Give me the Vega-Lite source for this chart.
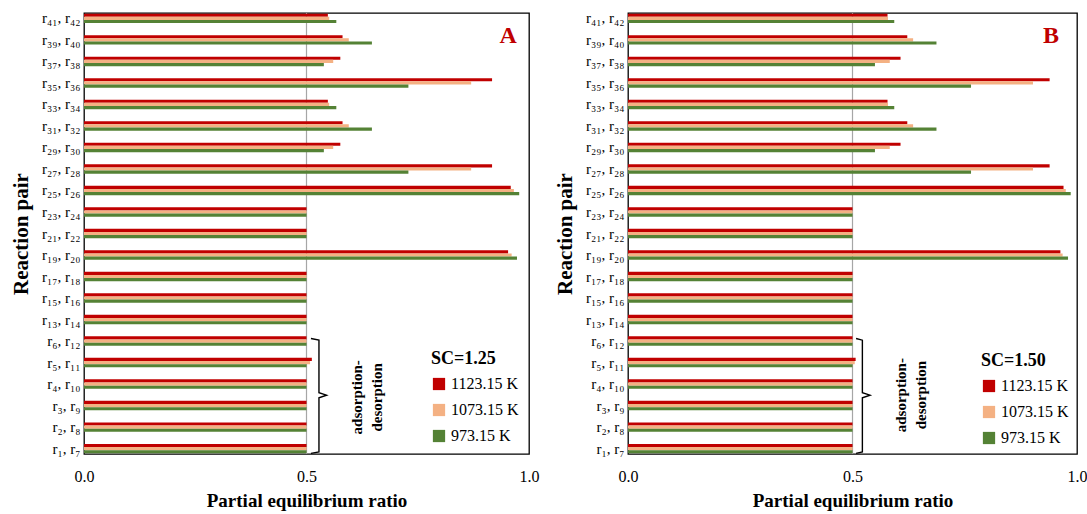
{
  "$schema": "https://vega.github.io/schema/vega-lite/v6.json",
  "padding": {"left": 9, "top": 10, "right": 5, "bottom": 5},
  "config": {
    "font": "Liberation Serif",
    "view": {"stroke": "#000000", "strokeWidth": 1.3},
    "axis": {"labelFont": "Liberation Serif", "titleFont": "Liberation Serif", "labelColor": "#000000", "titleColor": "#000000"},
    "legend": {"labelFont": "Liberation Serif", "titleFont": "Liberation Serif", "labelColor": "#000000", "titleColor": "#000000"},
    "text": {"font": "Liberation Serif"}
  },
  "datasets": {
    "A": [
      {"pair": "r₄₁, r₄₂", "T": "1123.15 K", "v": 0.548}, {"pair": "r₄₁, r₄₂", "T": "1073.15 K", "v": 0.551}, {"pair": "r₄₁, r₄₂", "T": "973.15 K", "v": 0.567},
      {"pair": "r₃₉, r₄₀", "T": "1123.15 K", "v": 0.581}, {"pair": "r₃₉, r₄₀", "T": "1073.15 K", "v": 0.595}, {"pair": "r₃₉, r₄₀", "T": "973.15 K", "v": 0.647},
      {"pair": "r₃₇, r₃₈", "T": "1123.15 K", "v": 0.576}, {"pair": "r₃₇, r₃₈", "T": "1073.15 K", "v": 0.560}, {"pair": "r₃₇, r₃₈", "T": "973.15 K", "v": 0.539},
      {"pair": "r₃₅, r₃₆", "T": "1123.15 K", "v": 0.917}, {"pair": "r₃₅, r₃₆", "T": "1073.15 K", "v": 0.870}, {"pair": "r₃₅, r₃₆", "T": "973.15 K", "v": 0.729},
      {"pair": "r₃₃, r₃₄", "T": "1123.15 K", "v": 0.548}, {"pair": "r₃₃, r₃₄", "T": "1073.15 K", "v": 0.551}, {"pair": "r₃₃, r₃₄", "T": "973.15 K", "v": 0.567},
      {"pair": "r₃₁, r₃₂", "T": "1123.15 K", "v": 0.581}, {"pair": "r₃₁, r₃₂", "T": "1073.15 K", "v": 0.595}, {"pair": "r₃₁, r₃₂", "T": "973.15 K", "v": 0.647},
      {"pair": "r₂₉, r₃₀", "T": "1123.15 K", "v": 0.576}, {"pair": "r₂₉, r₃₀", "T": "1073.15 K", "v": 0.560}, {"pair": "r₂₉, r₃₀", "T": "973.15 K", "v": 0.539},
      {"pair": "r₂₇, r₂₈", "T": "1123.15 K", "v": 0.917}, {"pair": "r₂₇, r₂₈", "T": "1073.15 K", "v": 0.870}, {"pair": "r₂₇, r₂₈", "T": "973.15 K", "v": 0.729},
      {"pair": "r₂₅, r₂₆", "T": "1123.15 K", "v": 0.959}, {"pair": "r₂₅, r₂₆", "T": "1073.15 K", "v": 0.966}, {"pair": "r₂₅, r₂₆", "T": "973.15 K", "v": 0.978},
      {"pair": "r₂₃, r₂₄", "T": "1123.15 K", "v": 0.5}, {"pair": "r₂₃, r₂₄", "T": "1073.15 K", "v": 0.5}, {"pair": "r₂₃, r₂₄", "T": "973.15 K", "v": 0.5},
      {"pair": "r₂₁, r₂₂", "T": "1123.15 K", "v": 0.5}, {"pair": "r₂₁, r₂₂", "T": "1073.15 K", "v": 0.5}, {"pair": "r₂₁, r₂₂", "T": "973.15 K", "v": 0.5},
      {"pair": "r₁₉, r₂₀", "T": "1123.15 K", "v": 0.953}, {"pair": "r₁₉, r₂₀", "T": "1073.15 K", "v": 0.961}, {"pair": "r₁₉, r₂₀", "T": "973.15 K", "v": 0.973},
      {"pair": "r₁₇, r₁₈", "T": "1123.15 K", "v": 0.5}, {"pair": "r₁₇, r₁₈", "T": "1073.15 K", "v": 0.5}, {"pair": "r₁₇, r₁₈", "T": "973.15 K", "v": 0.5},
      {"pair": "r₁₅, r₁₆", "T": "1123.15 K", "v": 0.5}, {"pair": "r₁₅, r₁₆", "T": "1073.15 K", "v": 0.5}, {"pair": "r₁₅, r₁₆", "T": "973.15 K", "v": 0.5},
      {"pair": "r₁₃, r₁₄", "T": "1123.15 K", "v": 0.5}, {"pair": "r₁₃, r₁₄", "T": "1073.15 K", "v": 0.5}, {"pair": "r₁₃, r₁₄", "T": "973.15 K", "v": 0.5},
      {"pair": "r₆, r₁₂", "T": "1123.15 K", "v": 0.5}, {"pair": "r₆, r₁₂", "T": "1073.15 K", "v": 0.5}, {"pair": "r₆, r₁₂", "T": "973.15 K", "v": 0.5},
      {"pair": "r₅, r₁₁", "T": "1123.15 K", "v": 0.512}, {"pair": "r₅, r₁₁", "T": "1073.15 K", "v": 0.508}, {"pair": "r₅, r₁₁", "T": "973.15 K", "v": 0.5},
      {"pair": "r₄, r₁₀", "T": "1123.15 K", "v": 0.5}, {"pair": "r₄, r₁₀", "T": "1073.15 K", "v": 0.5}, {"pair": "r₄, r₁₀", "T": "973.15 K", "v": 0.5},
      {"pair": "r₃, r₉", "T": "1123.15 K", "v": 0.5}, {"pair": "r₃, r₉", "T": "1073.15 K", "v": 0.5}, {"pair": "r₃, r₉", "T": "973.15 K", "v": 0.5},
      {"pair": "r₂, r₈", "T": "1123.15 K", "v": 0.5}, {"pair": "r₂, r₈", "T": "1073.15 K", "v": 0.5}, {"pair": "r₂, r₈", "T": "973.15 K", "v": 0.5},
      {"pair": "r₁, r₇", "T": "1123.15 K", "v": 0.5}, {"pair": "r₁, r₇", "T": "1073.15 K", "v": 0.5}, {"pair": "r₁, r₇", "T": "973.15 K", "v": 0.5}
    ],
    "B": [
      {"pair": "r₄₁, r₄₂", "T": "1123.15 K", "v": 0.578}, {"pair": "r₄₁, r₄₂", "T": "1073.15 K", "v": 0.579}, {"pair": "r₄₁, r₄₂", "T": "973.15 K", "v": 0.593},
      {"pair": "r₃₉, r₄₀", "T": "1123.15 K", "v": 0.622}, {"pair": "r₃₉, r₄₀", "T": "1073.15 K", "v": 0.635}, {"pair": "r₃₉, r₄₀", "T": "973.15 K", "v": 0.687},
      {"pair": "r₃₇, r₃₈", "T": "1123.15 K", "v": 0.607}, {"pair": "r₃₇, r₃₈", "T": "1073.15 K", "v": 0.583}, {"pair": "r₃₇, r₃₈", "T": "973.15 K", "v": 0.550},
      {"pair": "r₃₅, r₃₆", "T": "1123.15 K", "v": 0.939}, {"pair": "r₃₅, r₃₆", "T": "1073.15 K", "v": 0.902}, {"pair": "r₃₅, r₃₆", "T": "973.15 K", "v": 0.764},
      {"pair": "r₃₃, r₃₄", "T": "1123.15 K", "v": 0.578}, {"pair": "r₃₃, r₃₄", "T": "1073.15 K", "v": 0.579}, {"pair": "r₃₃, r₃₄", "T": "973.15 K", "v": 0.593},
      {"pair": "r₃₁, r₃₂", "T": "1123.15 K", "v": 0.622}, {"pair": "r₃₁, r₃₂", "T": "1073.15 K", "v": 0.635}, {"pair": "r₃₁, r₃₂", "T": "973.15 K", "v": 0.687},
      {"pair": "r₂₉, r₃₀", "T": "1123.15 K", "v": 0.607}, {"pair": "r₂₉, r₃₀", "T": "1073.15 K", "v": 0.583}, {"pair": "r₂₉, r₃₀", "T": "973.15 K", "v": 0.550},
      {"pair": "r₂₇, r₂₈", "T": "1123.15 K", "v": 0.939}, {"pair": "r₂₇, r₂₈", "T": "1073.15 K", "v": 0.902}, {"pair": "r₂₇, r₂₈", "T": "973.15 K", "v": 0.764},
      {"pair": "r₂₅, r₂₆", "T": "1123.15 K", "v": 0.970}, {"pair": "r₂₅, r₂₆", "T": "1073.15 K", "v": 0.975}, {"pair": "r₂₅, r₂₆", "T": "973.15 K", "v": 0.986},
      {"pair": "r₂₃, r₂₄", "T": "1123.15 K", "v": 0.5}, {"pair": "r₂₃, r₂₄", "T": "1073.15 K", "v": 0.5}, {"pair": "r₂₃, r₂₄", "T": "973.15 K", "v": 0.5},
      {"pair": "r₂₁, r₂₂", "T": "1123.15 K", "v": 0.5}, {"pair": "r₂₁, r₂₂", "T": "1073.15 K", "v": 0.5}, {"pair": "r₂₁, r₂₂", "T": "973.15 K", "v": 0.5},
      {"pair": "r₁₉, r₂₀", "T": "1123.15 K", "v": 0.963}, {"pair": "r₁₉, r₂₀", "T": "1073.15 K", "v": 0.968}, {"pair": "r₁₉, r₂₀", "T": "973.15 K", "v": 0.980},
      {"pair": "r₁₇, r₁₈", "T": "1123.15 K", "v": 0.5}, {"pair": "r₁₇, r₁₈", "T": "1073.15 K", "v": 0.5}, {"pair": "r₁₇, r₁₈", "T": "973.15 K", "v": 0.5},
      {"pair": "r₁₅, r₁₆", "T": "1123.15 K", "v": 0.5}, {"pair": "r₁₅, r₁₆", "T": "1073.15 K", "v": 0.5}, {"pair": "r₁₅, r₁₆", "T": "973.15 K", "v": 0.5},
      {"pair": "r₁₃, r₁₄", "T": "1123.15 K", "v": 0.5}, {"pair": "r₁₃, r₁₄", "T": "1073.15 K", "v": 0.5}, {"pair": "r₁₃, r₁₄", "T": "973.15 K", "v": 0.5},
      {"pair": "r₆, r₁₂", "T": "1123.15 K", "v": 0.5}, {"pair": "r₆, r₁₂", "T": "1073.15 K", "v": 0.5}, {"pair": "r₆, r₁₂", "T": "973.15 K", "v": 0.5},
      {"pair": "r₅, r₁₁", "T": "1123.15 K", "v": 0.507}, {"pair": "r₅, r₁₁", "T": "1073.15 K", "v": 0.505}, {"pair": "r₅, r₁₁", "T": "973.15 K", "v": 0.5},
      {"pair": "r₄, r₁₀", "T": "1123.15 K", "v": 0.5}, {"pair": "r₄, r₁₀", "T": "1073.15 K", "v": 0.5}, {"pair": "r₄, r₁₀", "T": "973.15 K", "v": 0.5},
      {"pair": "r₃, r₉", "T": "1123.15 K", "v": 0.5}, {"pair": "r₃, r₉", "T": "1073.15 K", "v": 0.5}, {"pair": "r₃, r₉", "T": "973.15 K", "v": 0.5},
      {"pair": "r₂, r₈", "T": "1123.15 K", "v": 0.5}, {"pair": "r₂, r₈", "T": "1073.15 K", "v": 0.5}, {"pair": "r₂, r₈", "T": "973.15 K", "v": 0.5},
      {"pair": "r₁, r₇", "T": "1123.15 K", "v": 0.5}, {"pair": "r₁, r₇", "T": "1073.15 K", "v": 0.5}, {"pair": "r₁, r₇", "T": "973.15 K", "v": 0.5}
    ],
    "braceA": [
      {"o": 1, "bx": 0.51, "by": 5.5}, {"o": 2, "bx": 0.528, "by": 5.42}, {"o": 3, "bx": 0.528, "by": 2.92},
      {"o": 4, "bx": 0.545, "by": 2.8}, {"o": 5, "bx": 0.528, "by": 2.68}, {"o": 6, "bx": 0.528, "by": 0.1}, {"o": 7, "bx": 0.51, "by": 0.03}
    ],
    "braceB": [
      {"o": 1, "bx": 0.508, "by": 5.5}, {"o": 2, "bx": 0.522, "by": 5.42}, {"o": 3, "bx": 0.522, "by": 2.92},
      {"o": 4, "bx": 0.539, "by": 2.8}, {"o": 5, "bx": 0.522, "by": 2.68}, {"o": 6, "bx": 0.522, "by": 0.1}, {"o": 7, "bx": 0.508, "by": 0.03}
    ],
    "noteA": [{"t": "adsorption-\ndesorption", "ax": 0.613, "ay": 2.7}],
    "noteB": [{"t": "adsorption-\ndesorption", "ax": 0.608, "ay": 2.8}],
    "tagA": [{"t": "A", "ax": 0.953, "ay": 19.9}],
    "tagB": [{"t": "B", "ax": 0.942, "ay": 19.9}],
    "ref": [{"r": 0.5}]
  },
  "bounds": "flush",
  "spacing": 99,
  "resolve": {"scale": {"color": "independent"}, "legend": {"color": "independent"}},
  "hconcat": [
    {
      "width": 445,
      "height": 441,
      "resolve": {"scale": {"y": "independent"}},
      "layer": [
        {
          "data": {"name": "ref"},
          "mark": {"type": "rule", "color": "#a6a6a6", "strokeWidth": 1.2},
          "encoding": {"x": {"field": "r", "type": "quantitative"}}
        },
        {
          "data": {"name": "A"},
          "mark": {"type": "bar"},
          "encoding": {
            "y": {
              "field": "pair", "type": "nominal",
              "sort": ["r₄₁, r₄₂","r₃₉, r₄₀","r₃₇, r₃₈","r₃₅, r₃₆","r₃₃, r₃₄","r₃₁, r₃₂","r₂₉, r₃₀","r₂₇, r₂₈","r₂₅, r₂₆","r₂₃, r₂₄","r₂₁, r₂₂","r₁₉, r₂₀","r₁₇, r₁₈","r₁₅, r₁₆","r₁₃, r₁₄","r₆, r₁₂","r₅, r₁₁","r₄, r₁₀","r₃, r₉","r₂, r₈","r₁, r₇"],
              "scale": {"paddingInner": 0.56, "paddingOuter": 0.03},
              "axis": {"title": "Reaction pair", "titleFontSize": 21, "titleFontWeight": "bold", "titlePadding": 10, "labelFontSize": 15, "ticks": false, "domain": false, "labelPadding": 4}
            },
            "x": {
              "field": "v", "type": "quantitative",
              "scale": {"domain": [0, 1], "nice": false},
              "axis": {"values": [0, 0.5, 1], "format": ".1f", "grid": false, "ticks": false, "domain": false, "labelFlush": false, "labelFontSize": 16, "labelPadding": 14, "title": "Partial equilibrium ratio", "titleFontSize": 19, "titleFontWeight": "bold", "titlePadding": 7}
            },
            "yOffset": {"field": "T", "type": "nominal", "sort": ["1123.15 K", "1073.15 K", "973.15 K"]},
            "color": {
              "field": "T", "type": "nominal",
              "scale": {"domain": ["1123.15 K", "1073.15 K", "973.15 K"], "range": ["#C00000", "#F4B183", "#548235"]},
              "legend": {"title": "SC=1.25", "orient": "bottom-right", "offset": 10, "padding": 0, "titleFontSize": 18, "titleFontWeight": "bold", "titlePadding": 8, "labelFontSize": 16, "symbolType": "square", "symbolSize": 150, "symbolStrokeWidth": 0, "symbolOpacity": 1, "rowPadding": 10, "labelOffset": 4}
            }
          }
        },
        {
          "data": {"name": "braceA"},
          "mark": {"type": "line", "color": "#000000", "strokeWidth": 1.4},
          "encoding": {
            "x": {"field": "bx", "type": "quantitative"},
            "y": {"field": "by", "type": "quantitative", "scale": {"domain": [0, 21], "nice": false}, "axis": null},
            "order": {"field": "o", "type": "quantitative"}
          }
        },
        {
          "data": {"name": "noteA"},
          "mark": {"type": "text", "angle": 270, "lineBreak": "\n", "fontWeight": "bold", "fontSize": 15, "lineHeight": 20, "align": "center", "baseline": "middle", "color": "#000000"},
          "encoding": {
            "x": {"field": "ax", "type": "quantitative"},
            "y": {"field": "ay", "type": "quantitative", "scale": {"domain": [0, 21], "nice": false}, "axis": null},
            "text": {"field": "t"}
          }
        },
        {
          "data": {"name": "tagA"},
          "mark": {"type": "text", "fontWeight": "bold", "fontSize": 24, "align": "center", "baseline": "middle", "color": "#C00000"},
          "encoding": {
            "x": {"field": "ax", "type": "quantitative"},
            "y": {"field": "ay", "type": "quantitative", "scale": {"domain": [0, 21], "nice": false}, "axis": null},
            "text": {"field": "t"}
          }
        }
      ]
    },
    {
      "width": 449,
      "height": 441,
      "resolve": {"scale": {"y": "independent"}},
      "layer": [
        {
          "data": {"name": "ref"},
          "mark": {"type": "rule", "color": "#a6a6a6", "strokeWidth": 1.2},
          "encoding": {"x": {"field": "r", "type": "quantitative"}}
        },
        {
          "data": {"name": "B"},
          "mark": {"type": "bar"},
          "encoding": {
            "y": {
              "field": "pair", "type": "nominal",
              "sort": ["r₄₁, r₄₂","r₃₉, r₄₀","r₃₇, r₃₈","r₃₅, r₃₆","r₃₃, r₃₄","r₃₁, r₃₂","r₂₉, r₃₀","r₂₇, r₂₈","r₂₅, r₂₆","r₂₃, r₂₄","r₂₁, r₂₂","r₁₉, r₂₀","r₁₇, r₁₈","r₁₅, r₁₆","r₁₃, r₁₄","r₆, r₁₂","r₅, r₁₁","r₄, r₁₀","r₃, r₉","r₂, r₈","r₁, r₇"],
              "scale": {"paddingInner": 0.56, "paddingOuter": 0.03},
              "axis": {"title": "Reaction pair", "titleFontSize": 21, "titleFontWeight": "bold", "titlePadding": 10, "labelFontSize": 15, "ticks": false, "domain": false, "labelPadding": 4}
            },
            "x": {
              "field": "v", "type": "quantitative",
              "scale": {"domain": [0, 1], "nice": false},
              "axis": {"values": [0, 0.5, 1], "format": ".1f", "grid": false, "ticks": false, "domain": false, "labelFlush": false, "labelFontSize": 16, "labelPadding": 14, "title": "Partial equilibrium ratio", "titleFontSize": 19, "titleFontWeight": "bold", "titlePadding": 7}
            },
            "yOffset": {"field": "T", "type": "nominal", "sort": ["1123.15 K", "1073.15 K", "973.15 K"]},
            "color": {
              "field": "T", "type": "nominal",
              "scale": {"domain": ["1123.15 K", "1073.15 K", "973.15 K"], "range": ["#C00000", "#F4B183", "#548235"]},
              "legend": {"title": "SC=1.50", "orient": "bottom-right", "offset": 8, "padding": 0, "titleFontSize": 18, "titleFontWeight": "bold", "titlePadding": 8, "labelFontSize": 16, "symbolType": "square", "symbolSize": 150, "symbolStrokeWidth": 0, "symbolOpacity": 1, "rowPadding": 10, "labelOffset": 4}
            }
          }
        },
        {
          "data": {"name": "braceB"},
          "mark": {"type": "line", "color": "#000000", "strokeWidth": 1.4},
          "encoding": {
            "x": {"field": "bx", "type": "quantitative"},
            "y": {"field": "by", "type": "quantitative", "scale": {"domain": [0, 21], "nice": false}, "axis": null},
            "order": {"field": "o", "type": "quantitative"}
          }
        },
        {
          "data": {"name": "noteB"},
          "mark": {"type": "text", "angle": 270, "lineBreak": "\n", "fontWeight": "bold", "fontSize": 15, "lineHeight": 20, "align": "center", "baseline": "middle", "color": "#000000"},
          "encoding": {
            "x": {"field": "ax", "type": "quantitative"},
            "y": {"field": "ay", "type": "quantitative", "scale": {"domain": [0, 21], "nice": false}, "axis": null},
            "text": {"field": "t"}
          }
        },
        {
          "data": {"name": "tagB"},
          "mark": {"type": "text", "fontWeight": "bold", "fontSize": 24, "align": "center", "baseline": "middle", "color": "#C00000"},
          "encoding": {
            "x": {"field": "ax", "type": "quantitative"},
            "y": {"field": "ay", "type": "quantitative", "scale": {"domain": [0, 21], "nice": false}, "axis": null},
            "text": {"field": "t"}
          }
        }
      ]
    }
  ]
}
